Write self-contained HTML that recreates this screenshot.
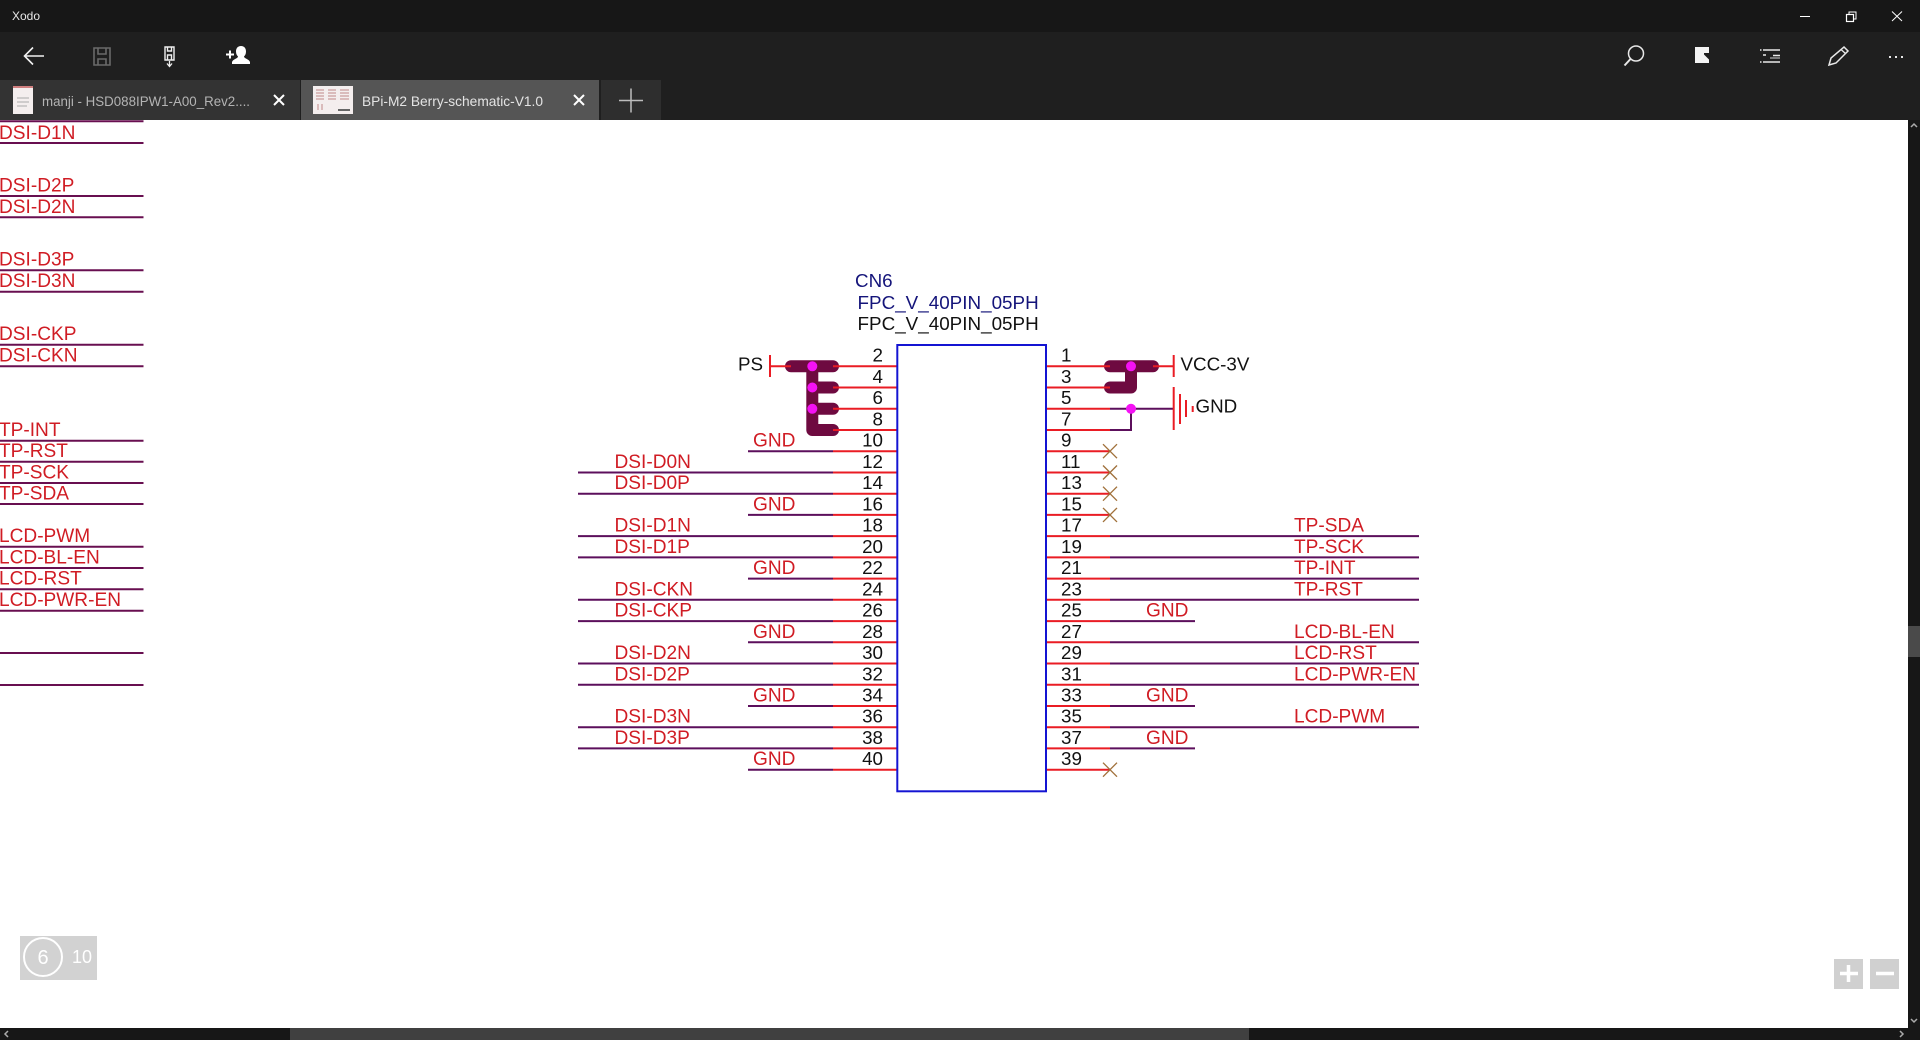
<!DOCTYPE html>
<html lang="en"><head><meta charset="utf-8"><title>Xodo</title>
<style>
html,body{margin:0;padding:0;background:#fff;width:1920px;height:1040px;overflow:hidden}
svg{display:block;position:absolute;left:0;top:0}
text{font-family:"Liberation Sans",Arial,sans-serif}
.s text{font-size:19.1px;fill:#d01c24}
.n text{font-size:18.8px;fill:#111}
.nr text{text-anchor:end}
.r line{stroke:#ea1c24;stroke-width:2}
.p line{stroke:#5c0f5c;stroke-width:2}
.x line{stroke:#a0703a;stroke-width:1.3}
.e line{stroke:#680f50;stroke-width:2}
</style></head><body>
<svg width="1920" height="1040" viewBox="0 0 1920 1040" xmlns="http://www.w3.org/2000/svg">
<rect width="1920" height="1040" fill="#fff"/>

<!-- left edge nets -->
<g class="e">
<line x1="0" x2="143.5" y1="121.3" y2="121.3"/><line x1="0" x2="143.5" y1="143" y2="143"/>
<line x1="0" x2="143.5" y1="196" y2="196"/><line x1="0" x2="143.5" y1="217.3" y2="217.3"/>
<line x1="0" x2="143.5" y1="270.3" y2="270.3"/><line x1="0" x2="143.5" y1="291.7" y2="291.7"/>
<line x1="0" x2="143.5" y1="344.7" y2="344.7"/><line x1="0" x2="143.5" y1="366.3" y2="366.3"/>
<line x1="0" x2="143.5" y1="440.7" y2="440.7"/><line x1="0" x2="143.5" y1="461.7" y2="461.7"/>
<line x1="0" x2="143.5" y1="483" y2="483"/><line x1="0" x2="143.5" y1="504" y2="504"/>
<line x1="0" x2="143.5" y1="546.7" y2="546.7"/><line x1="0" x2="143.5" y1="568" y2="568"/>
<line x1="0" x2="143.5" y1="589.3" y2="589.3"/><line x1="0" x2="143.5" y1="610.7" y2="610.7"/>
<line x1="0" x2="143.5" y1="653" y2="653"/><line x1="0" x2="143.5" y1="685" y2="685"/>
</g>
<g class="s">
<text x="-1" y="139">DSI-D1N</text>
<text x="-1" y="191.5">DSI-D2P</text><text x="-1" y="213">DSI-D2N</text>
<text x="-1" y="265.5">DSI-D3P</text><text x="-1" y="287">DSI-D3N</text>
<text x="-1" y="340">DSI-CKP</text><text x="-1" y="361.5">DSI-CKN</text>
<text x="-1" y="436">TP-INT</text><text x="-1" y="457">TP-RST</text>
<text x="-1" y="478.5">TP-SCK</text><text x="-1" y="499.5">TP-SDA</text>
<text x="-1" y="542">LCD-PWM</text><text x="-1" y="563.5">LCD-BL-EN</text>
<text x="-1" y="584.5">LCD-RST</text><text x="-1" y="606">LCD-PWR-EN</text>
</g>

<!-- purple wire continuations -->
<g class="p">
<line x1="748" x2="833" y1="451.2" y2="451.2"/>
<line x1="578" x2="833" y1="472.5" y2="472.5"/>
<line x1="578" x2="833" y1="493.7" y2="493.7"/>
<line x1="748" x2="833" y1="514.9" y2="514.9"/>
<line x1="578" x2="833" y1="536.1" y2="536.1"/>
<line x1="578" x2="833" y1="557.4" y2="557.4"/>
<line x1="748" x2="833" y1="578.6" y2="578.6"/>
<line x1="578" x2="833" y1="599.8" y2="599.8"/>
<line x1="578" x2="833" y1="621.1" y2="621.1"/>
<line x1="748" x2="833" y1="642.3" y2="642.3"/>
<line x1="578" x2="833" y1="663.5" y2="663.5"/>
<line x1="578" x2="833" y1="684.8" y2="684.8"/>
<line x1="748" x2="833" y1="706" y2="706"/>
<line x1="578" x2="833" y1="727.2" y2="727.2"/>
<line x1="578" x2="833" y1="748.4" y2="748.4"/>
<line x1="748" x2="833" y1="769.7" y2="769.7"/>
<line x1="1110" x2="1419" y1="536.1" y2="536.1"/>
<line x1="1110" x2="1419" y1="557.4" y2="557.4"/>
<line x1="1110" x2="1419" y1="578.6" y2="578.6"/>
<line x1="1110" x2="1419" y1="599.8" y2="599.8"/>
<line x1="1110" x2="1195" y1="621.1" y2="621.1"/>
<line x1="1110" x2="1419" y1="642.3" y2="642.3"/>
<line x1="1110" x2="1419" y1="663.5" y2="663.5"/>
<line x1="1110" x2="1419" y1="684.8" y2="684.8"/>
<line x1="1110" x2="1195" y1="706" y2="706"/>
<line x1="1110" x2="1419" y1="727.2" y2="727.2"/>
<line x1="1110" x2="1195" y1="748.4" y2="748.4"/>
<line x1="1110" x2="1173.7" y1="408.8" y2="408.8"/>
<line x1="1110" x2="1131" y1="430" y2="430"/>
<line x1="1131" x2="1131" y1="408.8" y2="431"/>
</g>

<!-- hulls -->
<g fill="none" stroke="#6e0a40" stroke-width="12" stroke-linecap="round" stroke-linejoin="round">
<path d="M791 366.3H833M812.3 366.3V430M812.3 387.5H833M812.3 408.8H833M812.3 430H833"/>
<path d="M1110 366.3H1153M1131 366.3V387.5H1110"/>
</g>

<!-- red pin stubs -->
<g class="r">
<line x1="833" x2="897" y1="366.3" y2="366.3"/><line x1="833" x2="897" y1="387.5" y2="387.5"/>
<line x1="833" x2="897" y1="408.8" y2="408.8"/><line x1="833" x2="897" y1="430" y2="430"/>
<line x1="833" x2="897" y1="451.2" y2="451.2"/><line x1="833" x2="897" y1="472.5" y2="472.5"/>
<line x1="833" x2="897" y1="493.7" y2="493.7"/><line x1="833" x2="897" y1="514.9" y2="514.9"/>
<line x1="833" x2="897" y1="536.1" y2="536.1"/><line x1="833" x2="897" y1="557.4" y2="557.4"/>
<line x1="833" x2="897" y1="578.6" y2="578.6"/><line x1="833" x2="897" y1="599.8" y2="599.8"/>
<line x1="833" x2="897" y1="621.1" y2="621.1"/><line x1="833" x2="897" y1="642.3" y2="642.3"/>
<line x1="833" x2="897" y1="663.5" y2="663.5"/><line x1="833" x2="897" y1="684.8" y2="684.8"/>
<line x1="833" x2="897" y1="706" y2="706"/><line x1="833" x2="897" y1="727.2" y2="727.2"/>
<line x1="833" x2="897" y1="748.4" y2="748.4"/><line x1="833" x2="897" y1="769.7" y2="769.7"/>
<line x1="1046" x2="1110" y1="366.3" y2="366.3"/><line x1="1046" x2="1110" y1="387.5" y2="387.5"/>
<line x1="1046" x2="1110" y1="408.8" y2="408.8"/><line x1="1046" x2="1110" y1="430" y2="430"/>
<line x1="1046" x2="1110" y1="451.2" y2="451.2"/><line x1="1046" x2="1110" y1="472.5" y2="472.5"/>
<line x1="1046" x2="1110" y1="493.7" y2="493.7"/><line x1="1046" x2="1110" y1="514.9" y2="514.9"/>
<line x1="1046" x2="1110" y1="536.1" y2="536.1"/><line x1="1046" x2="1110" y1="557.4" y2="557.4"/>
<line x1="1046" x2="1110" y1="578.6" y2="578.6"/><line x1="1046" x2="1110" y1="599.8" y2="599.8"/>
<line x1="1046" x2="1110" y1="621.1" y2="621.1"/><line x1="1046" x2="1110" y1="642.3" y2="642.3"/>
<line x1="1046" x2="1110" y1="663.5" y2="663.5"/><line x1="1046" x2="1110" y1="684.8" y2="684.8"/>
<line x1="1046" x2="1110" y1="706" y2="706"/><line x1="1046" x2="1110" y1="727.2" y2="727.2"/>
<line x1="1046" x2="1110" y1="748.4" y2="748.4"/><line x1="1046" x2="1110" y1="769.7" y2="769.7"/>
<line x1="770" x2="791" y1="366.3" y2="366.3"/>
<line x1="1153" x2="1173.7" y1="366.3" y2="366.3"/>
<line x1="770" x2="770" y1="355" y2="377"/>
<line x1="1173.7" x2="1173.7" y1="355" y2="377"/>
<line x1="1173.7" x2="1173.7" y1="387" y2="430"/>
<line x1="1180" x2="1180" y1="394" y2="424"/>
<line x1="1186" x2="1186" y1="400" y2="417"/>
<line x1="1192.7" x2="1192.7" y1="406" y2="412"/>
</g>

<!-- junction dots -->
<g fill="#f412f4">
<circle cx="812.3" cy="366.3" r="5"/><circle cx="812.3" cy="387.5" r="5"/><circle cx="812.3" cy="408.8" r="5"/>
<circle cx="1131" cy="366.3" r="5"/><circle cx="1131" cy="408.8" r="5"/>
</g>

<!-- no-connect marks -->
<g class="x">
<line x1="1103" x2="1117" y1="444.2" y2="458.2"/><line x1="1103" x2="1117" y1="458.2" y2="444.2"/>
<line x1="1103" x2="1117" y1="465.5" y2="479.5"/><line x1="1103" x2="1117" y1="479.5" y2="465.5"/>
<line x1="1103" x2="1117" y1="486.7" y2="500.7"/><line x1="1103" x2="1117" y1="500.7" y2="486.7"/>
<line x1="1103" x2="1117" y1="507.9" y2="521.9"/><line x1="1103" x2="1117" y1="521.9" y2="507.9"/>
<line x1="1103" x2="1117" y1="762.7" y2="776.7"/><line x1="1103" x2="1117" y1="776.7" y2="762.7"/>
</g>

<!-- connector body -->
<rect x="897.3" y="345" width="148.7" height="446.3" fill="none" stroke="#1414d2" stroke-width="2"/>

<!-- header -->
<text x="855" y="287" font-size="18.8" fill="#14147a">CN6</text>
<text x="857.5" y="309" font-size="18.85" fill="#14147a">FPC_V_40PIN_05PH</text>
<text x="857.5" y="330" font-size="18.85" fill="#111">FPC_V_40PIN_05PH</text>

<!-- left pin numbers -->
<g class="n nr">
<text x="883" y="361.7">2</text><text x="883" y="383">4</text><text x="883" y="404.2">6</text><text x="883" y="425.5">8</text>
<text x="883" y="446.7">10</text><text x="883" y="468">12</text><text x="883" y="489.2">14</text><text x="883" y="510.4">16</text>
<text x="883" y="531.6">18</text><text x="883" y="552.9">20</text><text x="883" y="574.1">22</text><text x="883" y="595.3">24</text>
<text x="883" y="616.6">26</text><text x="883" y="637.8">28</text><text x="883" y="659">30</text><text x="883" y="680.3">32</text>
<text x="883" y="701.5">34</text><text x="883" y="722.7">36</text><text x="883" y="743.9">38</text><text x="883" y="765.2">40</text>
</g>
<!-- right pin numbers -->
<g class="n">
<text x="1061" y="361.7">1</text><text x="1061" y="383">3</text><text x="1061" y="404.2">5</text><text x="1061" y="425.5">7</text>
<text x="1061" y="446.7">9</text><text x="1061" y="468">11</text><text x="1061" y="489.2">13</text><text x="1061" y="510.4">15</text>
<text x="1061" y="531.6">17</text><text x="1061" y="552.9">19</text><text x="1061" y="574.1">21</text><text x="1061" y="595.3">23</text>
<text x="1061" y="616.6">25</text><text x="1061" y="637.8">27</text><text x="1061" y="659">29</text><text x="1061" y="680.3">31</text>
<text x="1061" y="701.5">33</text><text x="1061" y="722.7">35</text><text x="1061" y="743.9">37</text><text x="1061" y="765.2">39</text>
</g>
<g class="n">
<text x="738" y="370.5">PS</text>
<text x="1180.5" y="370.5">VCC-3V</text>
<text x="1195.5" y="412.7">GND</text>
</g>

<!-- left signal labels -->
<g class="s">
<text x="753" y="446.7">GND</text>
<text x="614.5" y="468">DSI-D0N</text>
<text x="614.5" y="489.2">DSI-D0P</text>
<text x="753" y="510.4">GND</text>
<text x="614.5" y="531.6">DSI-D1N</text>
<text x="614.5" y="552.9">DSI-D1P</text>
<text x="753" y="574.1">GND</text>
<text x="614.5" y="595.3">DSI-CKN</text>
<text x="614.5" y="616.6">DSI-CKP</text>
<text x="753" y="637.8">GND</text>
<text x="614.5" y="659">DSI-D2N</text>
<text x="614.5" y="680.3">DSI-D2P</text>
<text x="753" y="701.5">GND</text>
<text x="614.5" y="722.7">DSI-D3N</text>
<text x="614.5" y="743.9">DSI-D3P</text>
<text x="753" y="765.2">GND</text>
</g>
<!-- right signal labels -->
<g class="s">
<text x="1294" y="531.6">TP-SDA</text>
<text x="1294" y="552.9">TP-SCK</text>
<text x="1294" y="574.1">TP-INT</text>
<text x="1294" y="595.3">TP-RST</text>
<text x="1146" y="616.6">GND</text>
<text x="1294" y="637.8">LCD-BL-EN</text>
<text x="1294" y="659">LCD-RST</text>
<text x="1294" y="680.3">LCD-PWR-EN</text>
<text x="1146" y="701.5">GND</text>
<text x="1294" y="722.7">LCD-PWM</text>
<text x="1146" y="743.9">GND</text>
</g>

<!-- page indicator -->
<rect x="20" y="936" width="77" height="44" fill="#d2d2d2"/>
<circle cx="43" cy="957" r="19" fill="none" stroke="#fff" stroke-width="2"/>
<text x="43" y="964" font-size="20" fill="#fff" text-anchor="middle">6</text>
<text x="82" y="963" font-size="18" fill="#fff" text-anchor="middle">10</text>

<!-- zoom buttons -->
<rect x="1834" y="959" width="29" height="30" fill="#d0d0d0"/>
<rect x="1870" y="959" width="29" height="30" fill="#d0d0d0"/>
<path d="M1840 973.5H1858M1848.5 965V982" stroke="#fff" stroke-width="3.5" fill="none"/>
<path d="M1876 973.5H1894" stroke="#fff" stroke-width="3.5" fill="none"/>

<!-- scrollbars -->
<rect x="1908" y="120" width="12" height="920" fill="#171717"/>
<rect x="1908" y="626" width="12" height="31" fill="#4a4a4a"/>
<rect x="0" y="1028" width="1920" height="12" fill="#171717"/>
<rect x="290" y="1028" width="959" height="12" fill="#404040"/>
<path d="M1911 127l3-3 3 3" stroke="#aaa" stroke-width="1.5" fill="none"/>
<path d="M1911 1019l3 3 3-3" stroke="#aaa" stroke-width="1.5" fill="none"/>
<path d="M8 1031l-3 3 3 3" stroke="#aaa" stroke-width="1.5" fill="none"/>
<path d="M1900 1031l3 3-3 3" stroke="#aaa" stroke-width="1.5" fill="none"/>

<!-- title bar + toolbar -->
<rect x="0" y="0" width="1920" height="32" fill="#171717"/>
<rect x="0" y="32" width="1920" height="88" fill="#1f1f1f"/>
<text x="12" y="20" font-size="12" fill="#e8e8e8">Xodo</text>
<path d="M1800 16.5H1810" stroke="#fff" stroke-width="1"/>
<rect x="1846.5" y="14.5" width="7" height="7" fill="none" stroke="#fff" stroke-width="1.2"/>
<path d="M1849 14V12H1856V19H1854" fill="none" stroke="#fff" stroke-width="1"/>
<path d="M1892 11.5L1902 21M1902 11.5L1892 21" stroke="#fff" stroke-width="1"/>

<!-- left toolbar icons -->
<path d="M44 56H25M33 47.5L24.5 56L33 64.5" fill="none" stroke="#f0f0f0" stroke-width="1.6"/>
<g fill="none" stroke="#6a6a6a" stroke-width="1.6">
<path d="M94 48H110V65H94Z"/><path d="M98 48V54H106V48"/><path d="M98 65V59H106V65"/>
</g>
<g fill="none" stroke="#f0f0f0" stroke-width="1.4">
<path d="M165 47H174V60H165Z"/><path d="M167.5 47V51H171.5V47"/><path d="M167.5 60V55H171.5V60"/>
</g>
<path d="M169.5 61V66M167 63.5L169.5 66.5L172 63.5" fill="none" stroke="#f0f0f0" stroke-width="1.3"/>
<path d="M226 54.5H234M230 50.5V58.5" stroke="#fff" stroke-width="2"/>
<path d="M241 46c3.500 0 5 2.500 5 5.500 0 2.500-1 4-2 5 0 2 5 2.500 6 5.500v2h-18v-2c1-3 6-3.500 6-5.500-1-1-2-2.500-2-5 0-3 1.500-5.500 5-5.500z" fill="#fff"/>

<!-- right toolbar icons -->
<circle cx="1636" cy="53.500" r="7.500" fill="none" stroke="#e8e8e8" stroke-width="1.500"/>
<path d="M1630.500 59L1624.500 65.500" stroke="#e8e8e8" stroke-width="2"/>
<path d="M1695 47H1709V53H1695Z" fill="#f4f4f4"/>
<path d="M1695 53H1704V54.500L1709 59.500V63H1695Z" fill="#f4f4f4"/>
<g stroke="#e8e8e8" stroke-width="1.500">
<path d="M1763 50H1780M1760 50H1761.500M1763 55H1766M1773 55.500H1780M1763 62H1780M1760 62H1761.500"/>
<path d="M1770 58H1780" stroke="#999"/>
</g>
<path d="M1829 65L1831 58L1844 47L1848 51L1836 63Z" fill="none" stroke="#e8e8e8" stroke-width="1.500"/>
<path d="M1841 49.500L1845.500 53.500" stroke="#e8e8e8" stroke-width="1.300"/>
<g fill="#e8e8e8"><rect x="1889" y="56" width="2" height="2"/><rect x="1895" y="56" width="2" height="2"/><rect x="1901" y="56" width="2" height="2"/></g>

<!-- tabs -->
<rect x="0" y="80" width="300" height="40" fill="#333"/>
<rect x="301" y="80" width="298" height="40" fill="#555"/>
<rect x="601" y="80" width="60" height="40" fill="#2e2e2e"/>
<rect x="13" y="86" width="20" height="28" fill="#f4eeee"/>
<rect x="13" y="86" width="20" height="2" fill="#d08080"/>
<path d="M17 98h12M17 102h12M17 106h10" stroke="#aaa" stroke-width="1"/>
<text x="42" y="106" font-size="13.5" fill="#b4b4b4" textLength="208" lengthAdjust="spacingAndGlyphs">manji - HSD088IPW1-A00_Rev2....</text>
<path d="M274 95L284 105M284 95L274 105" stroke="#fff" stroke-width="2"/>
<rect x="313" y="86" width="40" height="28" fill="#f4eeee"/>
<g stroke="#c08888" stroke-width="1"><path d="M316 90h8M316 93h8M316 96h8M316 99h8M328 90h8M328 93h8M328 96h8M328 99h8M340 90h9M340 93h9M340 96h9M340 99h9M318 104v6M322 104v6"/></g>
<path d="M338 110h12" stroke="#666" stroke-width="2"/>
<text x="362" y="106" font-size="13.7" fill="#e4e4e4" textLength="181" lengthAdjust="spacingAndGlyphs">BPi-M2 Berry-schematic-V1.0</text>
<path d="M574 95L584 105M584 95L574 105" stroke="#fff" stroke-width="2"/>
<path d="M619 100.500H643M631 88.500V112.500" stroke="#bdbdbd" stroke-width="1.500"/>
</svg>
</body></html>
